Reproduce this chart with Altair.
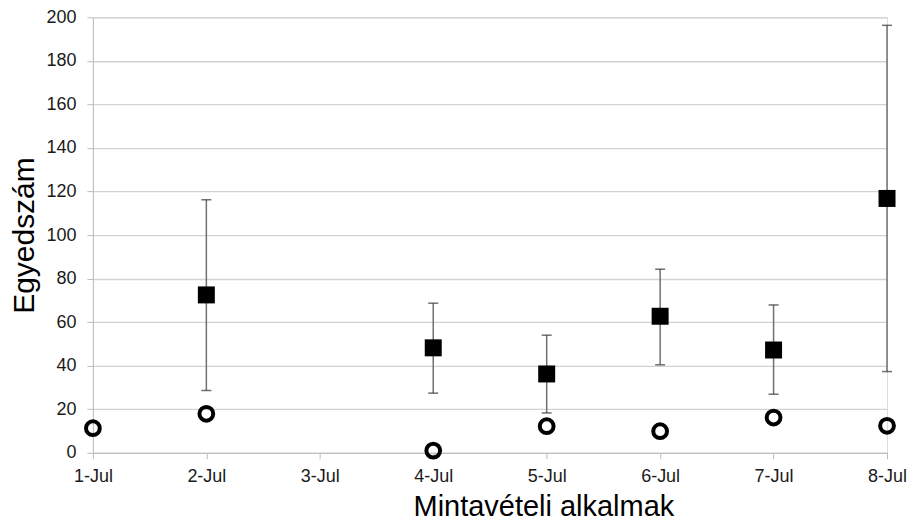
import altair as alt
import pandas as pd

dates = ["1-Jul", "2-Jul", "3-Jul", "4-Jul", "5-Jul", "6-Jul", "7-Jul", "8-Jul"]

sq_dates = ["2-Jul", "4-Jul", "5-Jul", "6-Jul", "7-Jul", "8-Jul"]
sq_mean = [72.5, 48.2, 36.2, 62.7, 47.2, 116.8]
sq_low = [28.6, 27.4, 18.3, 40.4, 26.9, 37.3]
sq_high = [116.2, 68.7, 54.0, 84.3, 67.9, 196.3]

circ_dates = ["1-Jul", "2-Jul", "4-Jul", "5-Jul", "6-Jul", "7-Jul", "8-Jul"]
circ_val = [11.3, 17.9, 1.0, 12.2, 9.9, 16.2, 12.4]

sq = pd.DataFrame({"date": sq_dates, "mean": sq_mean, "low": sq_low, "high": sq_high})
circ = pd.DataFrame({"date": circ_dates, "val": circ_val})

FONT = "Liberation Sans"

xenc = alt.X(
    "date:O",
    sort=dates,
    scale=alt.Scale(type="point", domain=dates, padding=0),
    axis=alt.Axis(
        title="Mintavételi alkalmak",
        labelAngle=0,
        labelFontSize=18,
        labelFont=FONT,
        labelColor="#1a1a1a",
        labelPadding=9,
        tickSize=6,
        tickColor="#bdbdbd",
        domainColor="#bdbdbd",
        grid=False,
        titleFontSize=29,
        titleFont=FONT,
        titleFontWeight="normal",
        titleColor="#000000",
        titlePadding=7,
        titleX=451,
    ),
)

yaxis = alt.Axis(
    title="Egyedszám",
    values=list(range(0, 201, 20)),
    labelFontSize=18,
    labelFont=FONT,
    labelColor="#1a1a1a",
    labelPadding=11,
    tickSize=6,
    tickColor="#bdbdbd",
    domainColor="#bdbdbd",
    gridColor="#d2d2d2",
    gridWidth=1.3,
    titleFontSize=30,
    titleFont=FONT,
    titleFontWeight="normal",
    titleColor="#000000",
    titlePadding=6,
)
yscale = alt.Scale(domain=[0, 200], nice=False)

base_sq = alt.Chart(sq)

rules = base_sq.mark_rule(color="#707070", strokeWidth=1.5).encode(
    x=xenc,
    y=alt.Y("low:Q", scale=yscale, axis=yaxis),
    y2="high:Q",
)
cap_hi = base_sq.mark_tick(color="#333333", size=10, thickness=1.5).encode(
    x=alt.X("date:O", sort=dates), y=alt.Y("high:Q")
)
cap_lo = base_sq.mark_tick(color="#333333", size=10, thickness=1.5).encode(
    x=alt.X("date:O", sort=dates), y=alt.Y("low:Q")
)
squares = base_sq.mark_point(
    shape="square", filled=True, color="#000000", size=289, opacity=1
).encode(x=alt.X("date:O", sort=dates), y=alt.Y("mean:Q"))

circles = alt.Chart(circ).mark_point(
    shape="circle", filled=False, color="#000000", size=190, strokeWidth=4, opacity=1
).encode(x=alt.X("date:O", sort=dates), y=alt.Y("val:Q"))

chart = (
    alt.layer(rules, cap_hi, cap_lo, squares, circles)
    .properties(
        width=795,
        height=436,
        autosize=alt.AutoSizeParams(type="none"),
        padding={"left": 85, "top": 9, "right": 20, "bottom": 70},
    )
    .configure_view(stroke="#c8c8c8", strokeWidth=1.3)
    .configure(background="white")
)

chart.save("out.html", embed_options={"renderer": "svg", "actions": False})
